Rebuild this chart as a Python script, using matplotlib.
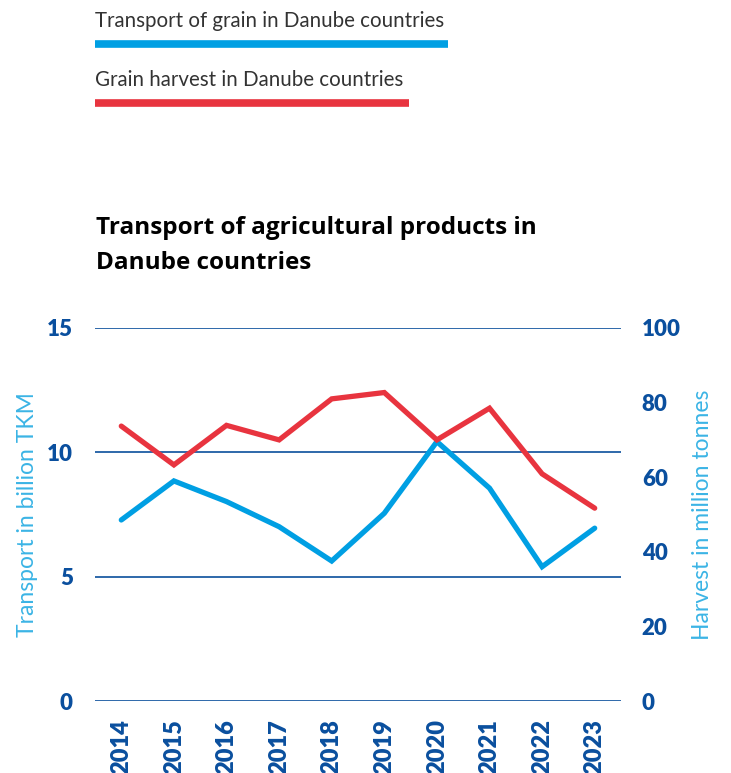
import matplotlib.pyplot as plt
from matplotlib.lines import Line2D

# data
years = ['2014', '2015', '2016', '2017', '2018', '2019', '2020', '2021', '2022', '2023']
transport = [7.28, 8.85, 8.02, 7.01, 5.63, 7.55, 10.43, 8.56, 5.40, 6.95]   # billion TKM
harvest = [73.7, 63.3, 73.9, 70.0, 81.0, 82.7, 70.0, 78.5, 60.9, 51.7]      # million tonnes
left_ticks = [0, 5, 10, 15]
right_ticks = [0, 20, 40, 60, 80, 100]

blue = '#009fe3'
red = '#e8343f'
dark = '#0a4f9e'
light = '#3bb4e5'

plt.rcParams['font.family'] = ['Lato', 'DejaVu Sans']

W, H = 731, 773
fig = plt.figure(figsize=(W / 100, H / 100), dpi=100)
ax = fig.add_axes([95 / W, (H - 701) / H, 526 / W, 373 / H])
ax2 = ax.twinx()

x = list(range(len(years)))
ax.plot(x, transport, color=blue, lw=3.8, solid_capstyle='round', solid_joinstyle='miter', zorder=3)
ax2.plot(x, harvest, color=red, lw=3.8, solid_capstyle='round', solid_joinstyle='miter', zorder=3)

ax.set_xlim(-0.5, len(years) - 0.5)
ax.set_ylim(0, 15)
ax2.set_ylim(0, 100)
ax.set_yticks(left_ticks)
ax2.set_yticks(right_ticks)
ax.set_xticks(x)
ax.set_xticklabels(years, rotation=90)

for v in left_ticks:
    ax.axhline(v, color='#0b4f9c', lw=1.2, zorder=1)

for a in (ax, ax2):
    for s in a.spines.values():
        s.set_visible(False)
    a.tick_params(length=0, colors=dark, labelsize=16)
    for lab in a.get_yticklabels() + a.get_xticklabels():
        lab.set_fontweight('heavy')
ax.tick_params(axis='y', pad=16)
ax2.tick_params(axis='y', pad=15)
ax.tick_params(axis='x', pad=13, labelsize=17)

ax.set_ylabel('Transport in billion TKM', color=light, fontsize=16.5, labelpad=6)
ax2.set_ylabel('Harvest in million tonnes', color=light, fontsize=16.5, labelpad=8)

# title
fig.text(96 / W, 1 - 228 / H, 'Transport of agricultural products in', fontsize=17.5,
         fontweight='bold', family=['Open Sans', 'DejaVu Sans'], va='center', ha='left')
fig.text(96 / W, 1 - 263 / H, 'Danube countries', fontsize=17.5,
         fontweight='bold', family=['Open Sans', 'DejaVu Sans'], va='center', ha='left')

# legend on top
fig.text(95 / W, 1 - 21 / H, 'Transport of grain in Danube countries', fontsize=14.8,
         color='#333333', va='center', ha='left')
fig.add_artist(Line2D([95 / W, 448 / W], [1 - 44 / H, 1 - 44 / H], color=blue, lw=5.5,
                      solid_capstyle='butt', transform=fig.transFigure))
fig.text(95 / W, 1 - 80 / H, 'Grain harvest in Danube countries', fontsize=14.8,
         color='#333333', va='center', ha='left')
fig.add_artist(Line2D([95 / W, 409 / W], [1 - 103 / H, 1 - 103 / H], color=red, lw=5.5,
                      solid_capstyle='butt', transform=fig.transFigure))

fig.savefig('out.png', dpi=100)
